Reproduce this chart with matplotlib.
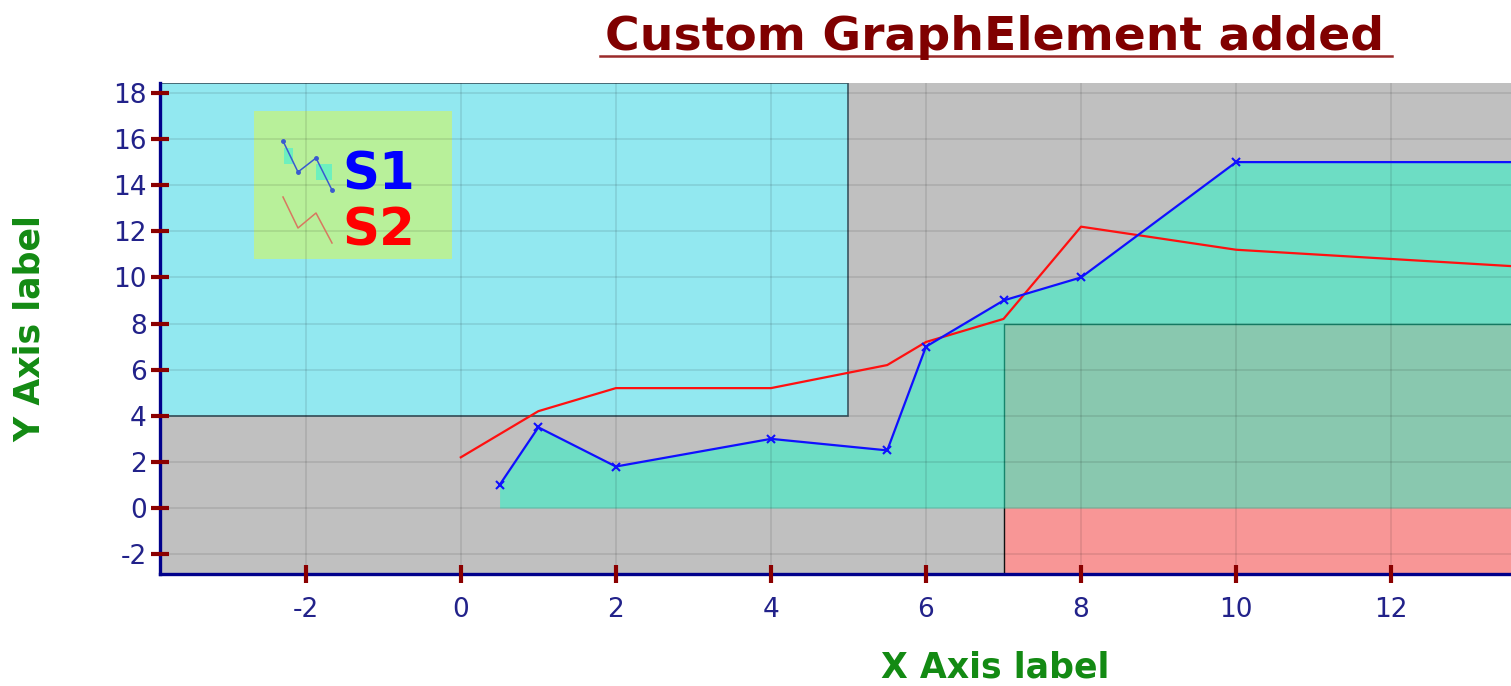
import matplotlib
matplotlib.use("Agg")
import matplotlib.pyplot as plt
from matplotlib.patches import Rectangle
from matplotlib.lines import Line2D

# ---------------- data ----------------
s1_x = [0.5, 1, 2, 4, 5.5, 6, 7, 8, 10, 16]
s1_y = [1.0, 3.5, 1.8, 3.0, 2.5, 7.0, 9.0, 10.0, 15.0, 15.0]
s2_x = [0, 1, 2, 4, 5.5, 6, 7, 8, 10, 15]
s2_y = [2.2, 4.2, 5.2, 5.2, 6.2, 7.2, 8.2, 12.2, 11.2, 10.2]
series_names = ["S1", "S2"]
x_ticks = [-2, 0, 2, 4, 6, 8, 10, 12]
y_ticks = [-2, 0, 2, 4, 6, 8, 10, 12, 14, 16, 18]
x_range = (-3.88, 17.66)
y_range = (-2.86, 18.43)
cyan_box = (-4.0, 5.0, 4.0, 18.43)   # x0, x1, y0, y1
red_box = (7.0, 18.0, -3.0, 8.0)     # x0, x1, y0, y1
title = "Custom GraphElement added"
x_label = "X Axis label"
y_label = "Y Axis label"

# ---------------- figure ----------------
W, H = 1511, 686
plt.rcParams['font.family'] = ['DejaVu Sans']
plt.rcParams['axes.unicode_minus'] = False
fig = plt.figure(figsize=(W / 100, H / 100), dpi=100)


def fp(x, y):
    return (x / W, 1 - y / H)


ax = fig.add_axes([160 / W, 1 - 574 / H, 1670 / W, 491 / H])
ax.set_facecolor('#C0C0C0')
ax.set_xlim(*x_range)
ax.set_ylim(*y_range)

# background boxes
ax.add_patch(Rectangle((cyan_box[0], cyan_box[2]), cyan_box[1] - cyan_box[0],
                       cyan_box[3] - cyan_box[2], facecolor='#92E8F0',
                       edgecolor='#3A5560', lw=1.2, zorder=1))
ax.add_patch(Rectangle((red_box[0], red_box[2]), red_box[1] - red_box[0],
                       red_box[3] - red_box[2], facecolor='#F89696',
                       edgecolor='#101010', lw=1.0, zorder=1))

# S1 fill
ax.fill_between(s1_x, s1_y, 0, color=(28 / 255, 250 / 255, 200 / 255),
                alpha=0.5, lw=0, zorder=1.5)

# lines
ax.plot(s2_x, s2_y, color='#FF1010', lw=1.6, zorder=3)
ax.plot(s1_x, s1_y, color='#1010FF', lw=1.6, marker='x', ms=6, mew=1.5, zorder=3.1)

# grid
ax.set_axisbelow(False)
ax.grid(True, color='black', alpha=0.1, lw=1.2)

# ticks
ax.set_xticks(x_ticks)
ax.set_yticks(y_ticks)
ax.tick_params(axis='both', direction='inout', length=13, width=3,
               color='#8B0000', labelcolor='#22228A', labelsize=19)
ax.tick_params(axis='x', pad=10)
ax.tick_params(axis='y', pad=3)

for s in ['top', 'right']:
    ax.spines[s].set_visible(False)
for s in ['left', 'bottom']:
    ax.spines[s].set_color('#00008B')
    ax.spines[s].set_linewidth(2.4)

# axis labels
ax.set_xlabel(x_label, fontsize=25, fontweight='bold', color='#138A13', va='center')
ax.xaxis.set_label_coords(0.5, (574 - 668) / 491)
ax.set_ylabel(y_label, fontsize=25, fontweight='bold', color='#138A13', va='center')
ax.yaxis.set_label_coords((30 - 160) / 1670, 0.5)

# legend (custom, drawn below grid)
x0, y0 = fp(254, 259)
x1, y1 = fp(452, 111)
ax.add_patch(Rectangle((x0, y0), x1 - x0, y1 - y0, transform=fig.transFigure,
                       facecolor='#B8F09A', edgecolor='none', zorder=1.8))
for (a, b, c, d) in [(284, 148, 293, 164), (316, 164, 332, 180)]:
    p0 = fp(a, d)
    p1 = fp(c, b)
    ax.add_patch(Rectangle(p0, p1[0] - p0[0], p1[1] - p0[1], transform=fig.transFigure,
                           facecolor='#6EF0BE', edgecolor='none', zorder=1.9))
icon1 = [fp(283, 141), fp(298, 172), fp(316, 158), fp(332, 190)]
icon2 = [fp(283, 197), fp(298, 228), fp(316, 213), fp(332, 243)]
ax.add_line(Line2D([p[0] for p in icon1], [p[1] for p in icon1], transform=fig.transFigure,
                   color='#3A5AD0', lw=1.1, marker='o', ms=2.5, zorder=4))
ax.add_line(Line2D([p[0] for p in icon2], [p[1] for p in icon2], transform=fig.transFigure,
                   color='#D87860', lw=1.1, zorder=4))
ax.text(*fp(342, 189), series_names[0], transform=fig.transFigure, fontsize=37,
        fontweight='bold', color='#0000FF', ha='left', va='baseline', zorder=4)
ax.text(*fp(342, 245), series_names[1], transform=fig.transFigure, fontsize=37,
        fontweight='bold', color='#FF0000', ha='left', va='baseline', zorder=4)

# title with underline
fig.text(*fp(995, 50), title, fontsize=34, fontweight='bold', color='#800000',
         ha='center', va='baseline')
fig.add_artist(Line2D([600 / W, 1392 / W], [1 - 56 / H, 1 - 56 / H],
                      color='#9A2A2A', lw=1.8))

fig.savefig('out.png', dpi=100)
